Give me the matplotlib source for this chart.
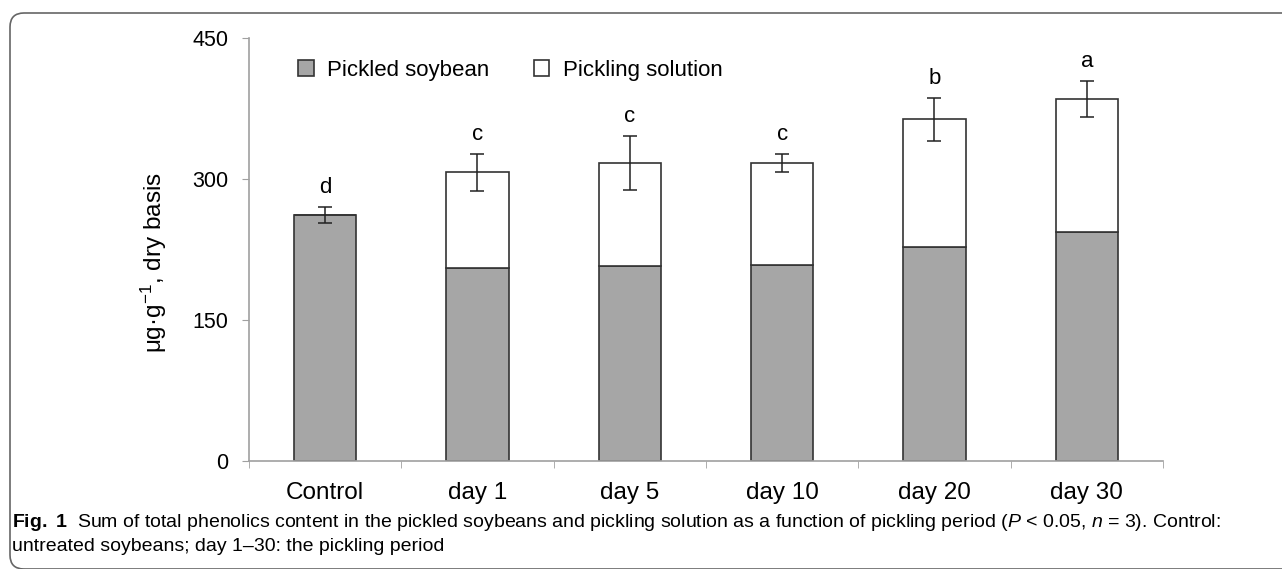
import matplotlib
matplotlib.use('Agg')
import matplotlib.pyplot as plt
import numpy as np
from matplotlib.patches import FancyBboxPatch
from matplotlib.transforms import IdentityTransform

# Values (µg/g, dry basis)
categories = ['Control', 'day 1', 'day 5', 'day 10', 'day 20', 'day 30']
soybean = [262, 205, 207, 209, 228, 244]
solution = [0, 102, 110, 108, 135.5, 141]
errors = [8.5, 20, 29, 10, 23, 19]
letters = ['d', 'c', 'c', 'c', 'b', 'a']
yticks = [0, 150, 300, 450]

plt.rcParams['font.family'] = ['Liberation Sans', 'DejaVu Sans']
plt.rcParams['mathtext.fontset'] = 'custom'
plt.rcParams['mathtext.rm'] = 'Liberation Sans'
plt.rcParams['mathtext.it'] = 'Liberation Sans:italic'
plt.rcParams['mathtext.bf'] = 'Liberation Sans:bold'

fig = plt.figure(figsize=(12.82, 5.69), dpi=100)
ax = fig.add_axes([249 / 1282, 1 - 461 / 569, 914 / 1282, 423 / 569])

x = np.arange(len(categories))
width = 0.41
edge = '#333333'
totals = np.array(soybean) + np.array(solution)

ax.bar(x, soybean, width, color='#a6a6a6', edgecolor=edge, linewidth=1.2,
       label='Pickled soybean', zorder=2)
ax.bar(x, solution, width, bottom=soybean, color='white', edgecolor=edge,
       linewidth=1.2, label='Pickling solution', zorder=2)
ax.errorbar(x, totals, yerr=errors, fmt='none', ecolor='#222222',
            elinewidth=1.1, capsize=5, capthick=1.1, zorder=3)

# significance letters
for xi, top, err, lab in zip(x, totals, errors, letters):
    ax.annotate(lab, (xi, top + err), xytext=(0, 10), textcoords='offset points',
                ha='center', va='baseline', fontsize=16)

ax.set_xlim(-0.5, len(categories) - 0.5)
ax.set_ylim(0, 450)
ax.set_yticks(yticks)
ax.set_xticks(x)
ax.set_xticklabels(categories, fontsize=17.5)
ax.set_xticks(np.arange(len(categories) + 1) - 0.5, minor=True)
ax.tick_params(axis='x', which='major', length=0, pad=15)
ax.tick_params(axis='x', which='minor', length=5, color='#a0a0a0', direction='out')
ax.tick_params(axis='y', length=5, color='#a0a0a0', labelsize=15.5, pad=10)

for s in ['top', 'right']:
    ax.spines[s].set_visible(False)
for s in ['left', 'bottom']:
    ax.spines[s].set_color('#a0a0a0')
    ax.spines[s].set_linewidth(1.2)

ax.set_ylabel('μg·g$^{-1}$, dry basis', fontsize=17.5)
ax.yaxis.set_label_coords(-0.088, 0.47)

ax.legend(loc='center left', bbox_to_anchor=(0.054, 0.924), ncol=2,
          frameon=False, fontsize=16, handlelength=0.7, handleheight=0.7,
          handletextpad=0.6, columnspacing=2.0, borderpad=0, borderaxespad=0)

# caption
cap1 = (r'$\bf{Fig.\ 1}$  Sum of total phenolics content in the pickled soybeans and pickling '
        r'solution as a function of pickling period ($\it{P}$ < 0.05, $\it{n}$ = 3). Control:')
cap2 = 'untreated soybeans; day 1–30: the pickling period'
fig.text(12 / 1282, 1 - 527 / 569, cap1, fontsize=14, va='baseline')
fig.text(12 / 1282, 1 - 551 / 569, cap2, fontsize=14, va='baseline')

# rounded frame around the figure
frame = FancyBboxPatch((10, 0), 1300, 556, boxstyle='round,pad=0,rounding_size=14',
                       transform=IdentityTransform(), facecolor='none',
                       edgecolor='#666666', linewidth=1.2)
fig.patches.append(frame)

fig.savefig('out.png', dpi=100)
